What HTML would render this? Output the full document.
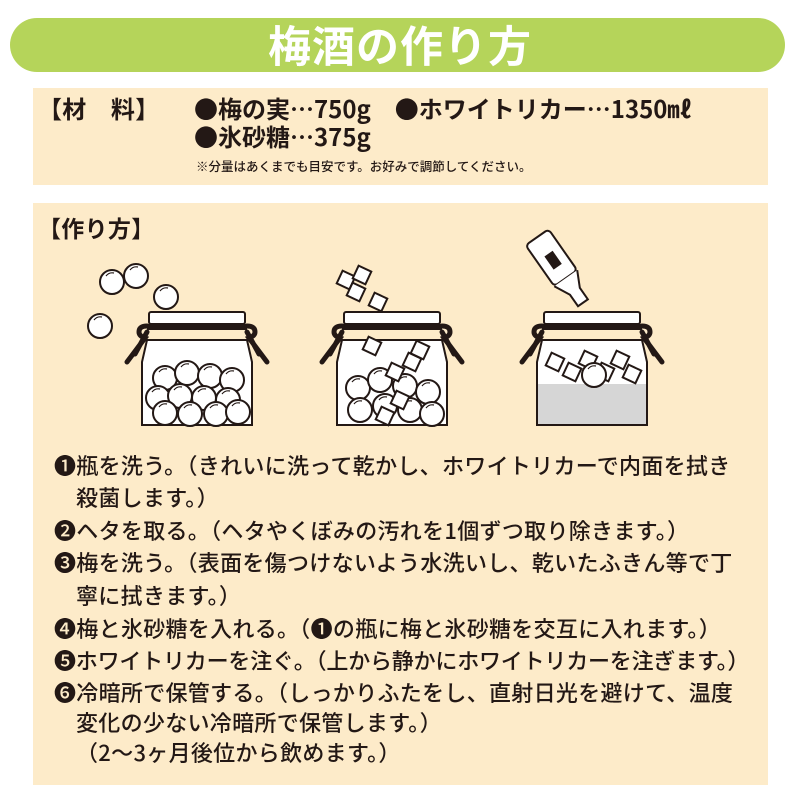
<!DOCTYPE html>
<html><head><meta charset="utf-8">
<style>
body{margin:0;width:800px;height:800px;background:#fff;position:relative;overflow:hidden;font-family:"Noto Sans CJK JP","Liberation Sans",sans-serif;color:#231815}
.bar{position:absolute;left:10px;top:18px;width:775px;height:54px;background:#b5d45a;border-radius:27px}
.title{position:absolute;left:0;width:800px;top:18px;text-align:center;color:#fff;font-size:43px;font-weight:bold;line-height:52px;letter-spacing:1px}
.box{position:absolute;left:33px;width:735px;background:#fdebc9}
.t{position:absolute;white-space:nowrap;font-size:22px;line-height:24px;font-weight:500;letter-spacing:0.3px}
</style></head><body>
<div class="bar"></div>
<div class="title">梅酒の作り方</div>
<div class="box" style="top:88px;height:97px"></div>
<div class="box" style="top:203px;height:582px"></div>

<div class="t" style="left:38px;top:96px;font-size:24px;font-weight:bold">【材　料】</div>
<div class="t" style="left:194px;top:96px;font-size:24px;font-weight:bold;letter-spacing:0">●梅の実…750g　●ホワイトリカー…1350㎖</div>
<div class="t" style="left:194px;top:124px;font-size:24px;font-weight:bold;letter-spacing:0">●氷砂糖…375g</div>
<div class="t" style="left:196px;top:158px;font-size:12.5px;line-height:16px;letter-spacing:0">※分量はあくまでも目安です。お好みで調節してください。</div>
<div class="t" style="left:38px;top:215px;font-size:23px;font-weight:bold">【作り方】</div>

<svg style="position:absolute;left:0;top:0" width="800" height="800" viewBox="0 0 800 800">
<defs>
<g id="jar">
<path d="M-50 28 L-55 50 L-55 113 L55 113 L55 50 L50 28 Z" fill="#fff" stroke="#231815" stroke-width="2"/>
<rect x="-48" y="0" width="96" height="12" rx="2" fill="#fff" stroke="#231815" stroke-width="2"/>
<rect x="-50" y="12" width="100" height="6" fill="#231815"/>
<path d="M-50 14 q-8 0 -8 6 q0 4 6 6 L-70 50 M-50 20 L-62 42" stroke="#231815" stroke-width="5" fill="none" stroke-linecap="round"/>
<path d="M50 14 q8 0 8 6 q0 4 -6 6 L70 50 M50 20 L62 42" stroke="#231815" stroke-width="5" fill="none" stroke-linecap="round"/>
</g>
<g id="ball"><circle r="12" fill="#fff" stroke="#231815" stroke-width="2"/><path d="M-6 -6 a8 8 0 0 1 8 -3" stroke="#231815" stroke-width="1.2" fill="none"/></g>
<g id="cube"><rect x="-7" y="-7" width="14" height="14" fill="#fff" stroke="#231815" stroke-width="2" transform="rotate(25)"/></g>
</defs>
<use href="#jar" transform="translate(197,312)"/>
<g>
<use href="#ball" x="165" y="378"/><use href="#ball" x="187" y="373"/><use href="#ball" x="210" y="376"/><use href="#ball" x="232" y="380"/>
<use href="#ball" x="158" y="398"/><use href="#ball" x="180" y="396"/><use href="#ball" x="204" y="398"/><use href="#ball" x="228" y="400"/>
<use href="#ball" x="165" y="413"/><use href="#ball" x="190" y="414"/><use href="#ball" x="216" y="414"/><use href="#ball" x="238" y="412"/>
<use href="#ball" x="112" y="282"/><use href="#ball" x="136" y="276"/><use href="#ball" x="166" y="297"/><use href="#ball" x="100" y="326"/>
</g>
<use href="#jar" transform="translate(392,312)"/>
<g>
<use href="#ball" x="358" y="388"/><use href="#ball" x="380" y="380"/><use href="#ball" x="405" y="386"/><use href="#ball" x="428" y="392"/>
<use href="#ball" x="360" y="410"/><use href="#ball" x="385" y="406"/><use href="#ball" x="410" y="410"/><use href="#ball" x="432" y="414"/>
<use href="#cube" x="372" y="346"/><use href="#cube" x="395" y="372"/><use href="#cube" x="412" y="362"/><use href="#cube" x="420" y="350"/><use href="#cube" x="400" y="400"/><use href="#cube" x="385" y="416"/>
<use href="#cube" x="346" y="280"/><use href="#cube" x="362" y="275"/><use href="#cube" x="356" y="292"/><use href="#cube" x="378" y="302"/>
</g>
<use href="#jar" transform="translate(592,312)"/>
<rect x="538" y="384" width="108" height="40" fill="#d6d6d6"/>
<g>
<use href="#cube" x="555" y="362"/><use href="#cube" x="572" y="372"/><use href="#cube" x="588" y="360"/><use href="#cube" x="605" y="372"/><use href="#cube" x="620" y="360"/><use href="#cube" x="632" y="374"/>
<use href="#ball" x="594" y="375"/>
</g>
<g transform="translate(560,270) rotate(-35)">
<rect x="-14" y="-40" width="28" height="50" rx="4" fill="#fff" stroke="#231815" stroke-width="2"/>
<path d="M-14 10 L-6 26 L-6 40 L6 40 L6 26 L14 10" fill="#fff" stroke="#231815" stroke-width="2"/>
<rect x="-5" y="-20" width="10" height="16" fill="#231815"/>
</g>
</svg>

<div class="t" style="left:54px;top:453px">❶瓶を洗う。（きれいに洗って乾かし、ホワイトリカーで内面を拭き</div>
<div class="t" style="left:76px;top:485px">殺菌します。）</div>
<div class="t" style="left:54px;top:518px">❷ヘタを取る。（ヘタやくぼみの汚れを1個ずつ取り除きます。）</div>
<div class="t" style="left:54px;top:550px">❸梅を洗う。（表面を傷つけないよう水洗いし、乾いたふきん等で丁</div>
<div class="t" style="left:76px;top:583px">寧に拭きます。）</div>
<div class="t" style="left:54px;top:616px">❹梅と氷砂糖を入れる。（❶の瓶に梅と氷砂糖を交互に入れます。）</div>
<div class="t" style="left:54px;top:648px;letter-spacing:-0.2px">❺ホワイトリカーを注ぐ。（上から静かにホワイトリカーを注ぎます。）</div>
<div class="t" style="left:54px;top:680px">❻冷暗所で保管する。（しっかりふたをし、直射日光を避けて、温度</div>
<div class="t" style="left:76px;top:710px">変化の少ない冷暗所で保管します。）</div>
<div class="t" style="left:76px;top:740px">（2～3ヶ月後位から飲めます。）</div>
</body></html>
